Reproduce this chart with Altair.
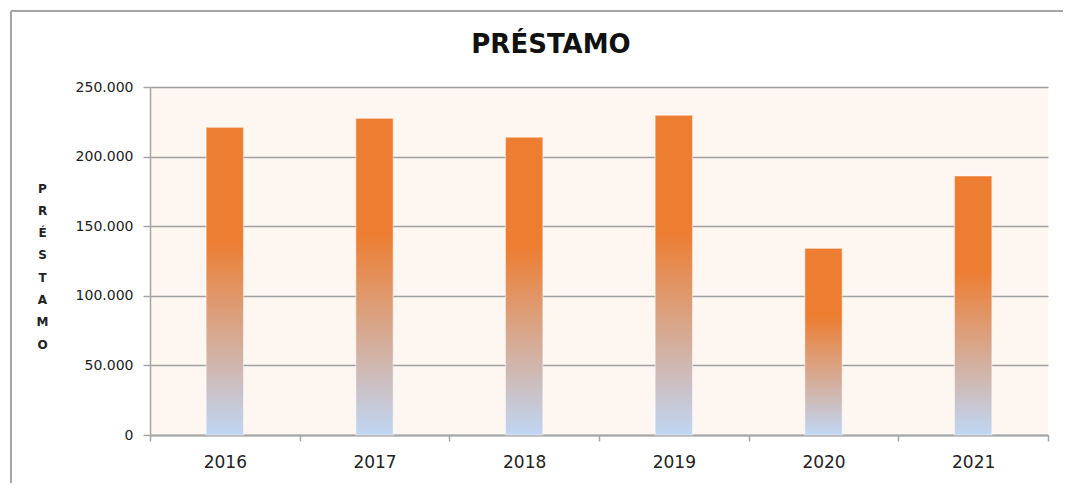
import altair as alt
import pandas as pd

# ---- data ----
years = ["2016", "2017", "2018", "2019", "2020", "2021"]
prestamo = [221000, 227500, 213900, 229700, 134100, 186100]
y_ticks = [0, 50000, 100000, 150000, 200000, 250000]
y_title_letters = ["P", "R", "É", "S", "T", "A", "M", "O"]
chart_title = "PRÉSTAMO"

df = pd.DataFrame({"year": years, "value": prestamo})

FONT = "DejaVu Sans"
GRAY = "#A6A6A6"

gradient = alt.Gradient(
    gradient="linear", x1=0, x2=0, y1=1, y2=0,
    stops=[
        alt.GradientStop(color="#C0D6F3", offset=0),
        alt.GradientStop(color="#ED7D31", offset=0.635),
        alt.GradientStop(color="#ED7D31", offset=1),
    ],
)

bars = alt.Chart(df).mark_bar(
    fill=gradient, stroke="white", strokeOpacity=0.45, strokeWidth=1.2,
    width=alt.RelativeBandSize(0.25),
).encode(
    x=alt.X(
        "year:N", sort=years,
        scale=alt.Scale(paddingInner=0, paddingOuter=0),
        axis=alt.Axis(
            title=None, labelAngle=0, tickBand="extent",
            domainColor=GRAY, domainWidth=2, tickColor=GRAY, tickWidth=1.5,
            tickSize=6, labelPadding=13, labelFont=FONT, labelFontSize=17,
            labelColor="#222222", grid=False,
        ),
    ),
    y=alt.Y(
        "value:Q",
        scale=alt.Scale(domain=[0, 250000]),
        axis=alt.Axis(
            values=y_ticks,
            labelExpr="replace(format(datum.value, ','), ',', '.')",
            title=y_title_letters, titleAngle=0, titleAlign="center",
            titleBaseline="top", titleX=-108, titleY=96, titleLineHeight=22.3,
            titleFont=FONT, titleFontSize=12, titleFontWeight="bold",
            titleColor="#222222",
            domainColor=GRAY, domainWidth=1.5, tickColor=GRAY, tickWidth=1.5,
            tickSize=7, labelPadding=10, labelFont=FONT, labelFontSize=14,
            labelColor="#222222",
            grid=True, gridColor="#A0A0A0", gridWidth=1.5,
        ),
    ),
)

frame_data = alt.Data(values=[{"k": 0}])
left_border = alt.Chart(frame_data).mark_rule(color=GRAY, strokeWidth=2).encode(
    x=alt.value(-139), y=alt.value(-76), y2=alt.value(410)
)
top_border = alt.Chart(frame_data).mark_rule(color=GRAY, strokeWidth=2).encode(
    x=alt.value(-139), x2=alt.value(913), y=alt.value(-76)
)

chart = alt.layer(bars, left_border, top_border).properties(
    width=898,
    height=348,
    autosize=alt.AutoSizeParams(type="none"),
    padding={"left": 142, "top": 79, "right": 19, "bottom": 48},
    title=alt.Title(
        chart_title, font=FONT, fontSize=26, fontWeight="bold", color="#111111",
        anchor="middle", baseline="bottom", offset=0, dx=-48, dy=74,
    ),
).configure_view(
    fill="#FDF6F1", strokeWidth=0
)

chart.save("out.html", embed_options={"renderer": "svg", "actions": False})
